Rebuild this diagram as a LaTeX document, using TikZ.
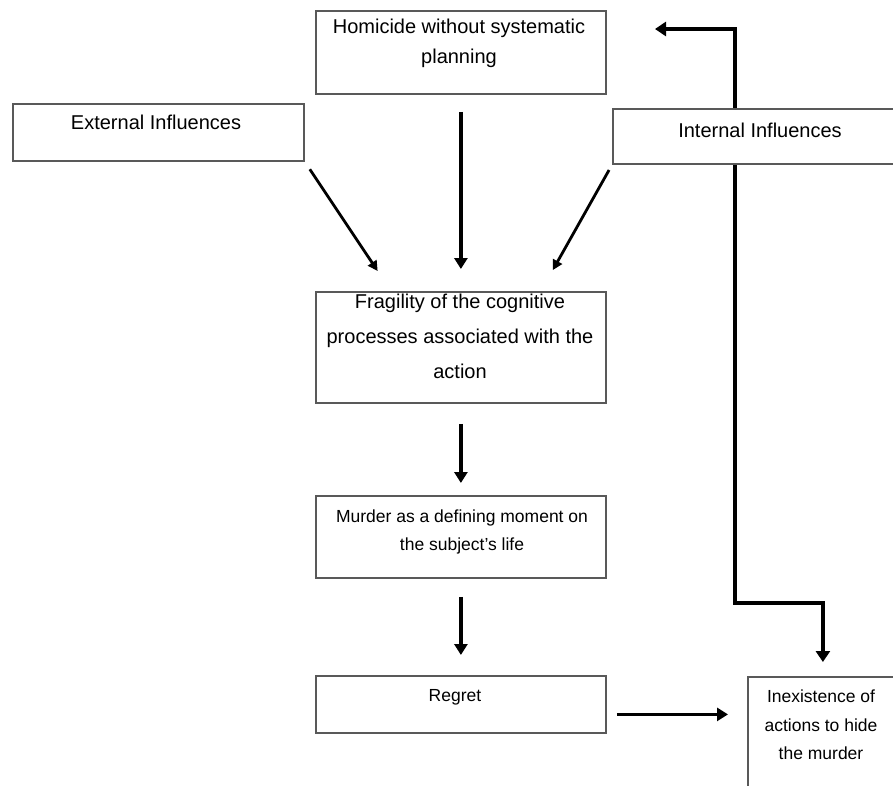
\documentclass[tikz,border=0pt]{standalone}
\usepackage{fontspec}
\setmainfont{Liberation Sans}
\usetikzlibrary{arrows.meta,calc,backgrounds}
\tikzset{
  box/.style  = {draw=gray!70!black, line width=1.8pt, fill=white, anchor=north west,
                 inner sep=0pt},
  txt/.style  = {align=center, inner sep=0pt, font=\fontsize{20}{30}\selectfont},
  stxt/.style = {align=center, inner sep=0pt, font=\fontsize{17.5}{28.5}\selectfont},
  arr/.style  = {-{Triangle[length=11pt,width=13pt]}, line width=3.8pt},
  diag/.style = {-{Triangle[length=10pt,width=10pt]}, line width=2.8pt},
  back/.style = {{Triangle[length=11pt,width=14pt]}-{Triangle[length=11pt,width=14pt]},
                 line width=4.5pt},
}

\begin{document}
\begin{tikzpicture}[x=1pt,y=-1pt]
  \useasboundingbox (0,0) rectangle (893,785);
  \clip (0,0) rectangle (893,785);
  % boxes
  \node[box, minimum width=290pt, minimum height=83pt]  (hom)   at (315,10)  {};
  \node[box, minimum width=291pt, minimum height=57pt]  (ext)   at (12,103)  {};
  \node[box, minimum width=296pt, minimum height=55pt]  (int)   at (612,108) {};
  \node[box, minimum width=290pt, minimum height=111pt] (frag)  at (315,291) {};
  \node[box, minimum width=290pt, minimum height=82pt]  (mur)   at (315,495) {};
  \node[box, minimum width=290pt, minimum height=57pt]  (reg)   at (315,675) {};
  \node[box, minimum width=150pt, minimum height=130pt] (inex)  at (747,676) {};
  % texts
  \node[txt]  (homtxt)  at (459,43)  {Homicide without systematic\\planning};
  \node[txt]  (exttxt)  at (156,122) {External Influences};
  \node[txt]  (inttxt)  at (760,130) {Internal Influences};
  \node[txt, font=\fontsize{20}{35}\selectfont] (fragtxt) at (460,336)
    {Fragility of the cognitive\\processes associated with the\\action};
  \node[stxt] (murtxt)  at (462,532) {Murder as a defining moment on\\the subject's life};
  \node[stxt] (regtxt)  at (455,697) {Regret};
  \node[stxt] (inextxt) at (821,725) {Inexistence of\\actions to hide\\the murder};
  % arrows
  \draw[arr, shorten <=17pt, shorten >=22pt] (hom) -- (frag);
  \draw[diag, shorten <=9pt, shorten >=24pt] (ext.south east) -- ([xshift=76pt]frag.north west);
  \draw[diag, shorten <=6pt, shorten >=24pt] (int.south west) -- ([xshift=226pt]frag.north west);
  \draw[arr, shorten <=20pt, shorten >=12pt] (frag) -- (mur);
  \draw[arr, shorten <=18pt, shorten >=20pt] (mur) -- (reg);
  \draw[arr, shorten <=10pt, shorten >=19pt] ([yshift=-10pt]reg.east) -- ([yshift=-10pt]reg.east -| inex.west);
  % feedback line behind the boxes
  \coordinate (tip)    at (655,29);
  \coordinate (corner) at (735,29);
  \coordinate (bend)   at (735,603);
  \begin{scope}[on background layer]
    \draw[back] (tip) -- (corner) -- (bend) -| ([yshift=14pt]inex.north);
  \end{scope}
\end{tikzpicture}
\end{document}
